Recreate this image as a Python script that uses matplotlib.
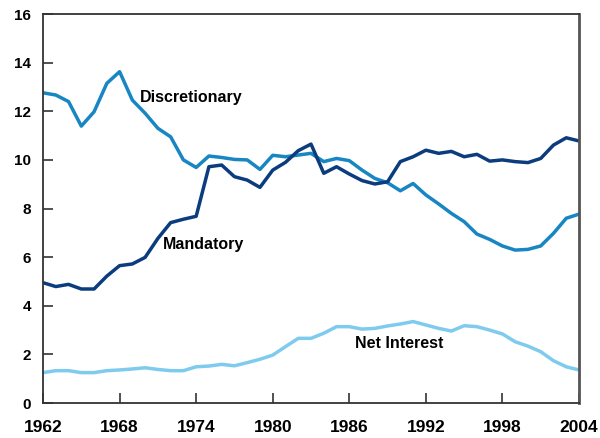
import matplotlib
matplotlib.use("Agg")
import matplotlib.pyplot as plt

years = list(range(1962, 2005))

discretionary = [12.76, 12.67, 12.40, 11.39, 11.98, 13.15, 13.63, 12.46, 11.92, 11.30,
                 10.95, 10.00, 9.69, 10.16, 10.10, 10.02, 10.00, 9.61, 10.19, 10.13,
                 10.20, 10.27, 9.93, 10.06, 9.97, 9.58, 9.24, 9.06, 8.73, 9.03,
                 8.56, 8.19, 7.80, 7.46, 6.95, 6.73, 6.46, 6.29, 6.32, 6.46,
                 6.98, 7.60, 7.77]

mandatory = [4.95, 4.79, 4.88, 4.69, 4.69, 5.22, 5.65, 5.72, 5.99, 6.77,
             7.42, 7.56, 7.68, 9.72, 9.79, 9.31, 9.17, 8.87, 9.58, 9.90,
             10.38, 10.65, 9.45, 9.72, 9.42, 9.15, 9.01, 9.10, 9.93, 10.13,
             10.40, 10.27, 10.35, 10.13, 10.23, 9.95, 10.00, 9.93, 9.89, 10.06,
             10.61, 10.91, 10.78]

net_interest = [1.25, 1.33, 1.33, 1.25, 1.25, 1.33, 1.36, 1.40, 1.45, 1.38,
                1.33, 1.33, 1.49, 1.52, 1.59, 1.53, 1.66, 1.80, 1.97, 2.32,
                2.66, 2.66, 2.87, 3.14, 3.14, 3.04, 3.07, 3.17, 3.25, 3.35,
                3.21, 3.07, 2.96, 3.18, 3.14, 3.00, 2.84, 2.52, 2.34, 2.11,
                1.74, 1.49, 1.36]

xticks = [1962, 1968, 1974, 1980, 1986, 1992, 1998, 2004]
yticks = [0, 2, 4, 6, 8, 10, 12, 14, 16]

plt.rcParams['font.family'] = ['Liberation Sans', 'DejaVu Sans']
plt.rcParams['font.weight'] = 'bold'

fig = plt.figure(figsize=(6.0, 4.38), dpi=100)
ax = fig.add_axes([0.0717, 0.0799, 0.8933, 0.888])

ax.plot(years, net_interest, color='#7ecbee', lw=2.5, solid_joinstyle='round')
ax.plot(years, discretionary, color='#1786c2', lw=2.5, solid_joinstyle='round')
ax.plot(years, mandatory, color='#0b3c7e', lw=2.5, solid_joinstyle='round')

ax.set_xlim(1962, 2004)
ax.set_ylim(0, 16)
ax.set_xticks(xticks)
ax.set_yticks(yticks)
ax.tick_params(axis='x', direction='in', length=7, width=1.2, pad=12.5,
               labelsize=12.5, color='#333333')
ax.tick_params(axis='y', direction='in', length=7, width=1.2, pad=8.5,
               labelsize=11, color='#333333')
for lab in ax.get_xticklabels() + ax.get_yticklabels():
    lab.set_fontweight('bold')

for side in ['left', 'bottom', 'top']:
    ax.spines[side].set_color('#333333')
    ax.spines[side].set_linewidth(1.3)
ax.spines['right'].set_color('#555555')
ax.spines['right'].set_linewidth(2.0)

ax.text(1969.6, 12.55, 'Discretionary', fontsize=11.5, fontweight='bold',
        va='center', ha='left', color='black')
ax.text(1971.4, 6.54, 'Mandatory', fontsize=11.5, fontweight='bold',
        va='center', ha='left', color='black')
ax.text(1986.45, 2.43, 'Net Interest', fontsize=11.5, fontweight='bold',
        va='center', ha='left', color='black')

fig.savefig('out.png', dpi=100)
